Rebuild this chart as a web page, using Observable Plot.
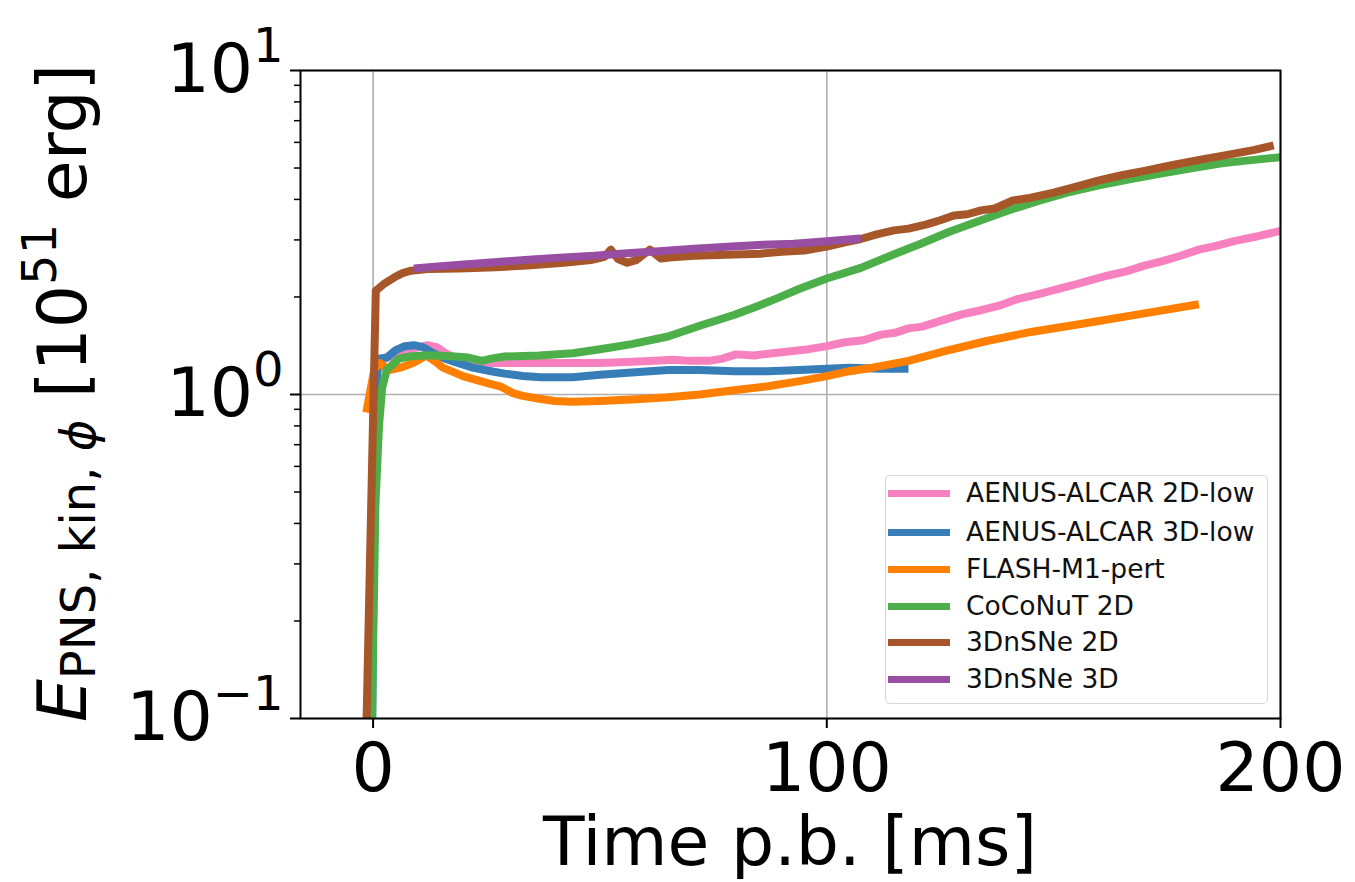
<!DOCTYPE html>
<html><head><meta charset="utf-8">
<script src="https://cdn.jsdelivr.net/npm/d3@7"></script>
<script src="https://cdn.jsdelivr.net/npm/@observablehq/plot@0.6"></script>
<style>
body{margin:0;background:#fff;font-family:"DejaVu Sans",sans-serif;}
#wrap{position:relative;width:1355px;height:882px;overflow:hidden;}
#legend{position:absolute;left:885px;top:475px;width:383px;height:229px;box-sizing:border-box;border:1.6px solid #d6d6d6;border-radius:5px;background:rgba(255,255,255,0.8);}
.row{position:absolute;left:0;height:0;}
.sw{position:absolute;left:2px;width:62px;height:7px;top:-3.5px;}
.lab{position:absolute;left:80px;top:-16px;font-size:26.5px;line-height:32px;white-space:nowrap;color:#111;}
</style></head><body><div id="wrap"></div>
<script>
// ---- data (time p.b. [ms], E [1e51 erg]) ----
const seriesNames = ["AENUS-ALCAR 2D-low","AENUS-ALCAR 3D-low","FLASH-M1-pert","CoCoNuT 2D","3DnSNe 2D","3DnSNe 3D"];
const seriesColors = ["#f781bf","#377eb8","#ff7f00","#4daf4a","#a65628","#984ea3"];

const aenus2dT = [0.2,1.5,5,9,12,14,16,18,22,26,32,38,44,50,56,62,66,70,74,77,80,84,88,92,96,100,104,108,112,115,118,121,124,127,130,134,138,142,146,150,154,158,162,166,170,174,178,182,186,190,195,200];
const aenus2dE = [1.1,1.27,1.33,1.39,1.42,1.40,1.34,1.30,1.27,1.25,1.25,1.25,1.25,1.25,1.26,1.27,1.28,1.27,1.27,1.29,1.33,1.32,1.34,1.36,1.38,1.41,1.45,1.47,1.53,1.55,1.60,1.62,1.67,1.72,1.77,1.82,1.88,1.97,2.03,2.10,2.17,2.25,2.33,2.40,2.50,2.58,2.68,2.80,2.88,2.98,3.08,3.20];

const aenus3dT = [-0.2,0.4,1.3,3,5,7,9,11,14.5,18,22,26,29,33,37,44,50,57,65,72,79.5,87,94,100,105,112,118];
const aenus3dE = [0.09,1.0,1.29,1.30,1.37,1.41,1.42,1.40,1.31,1.26,1.21,1.18,1.16,1.14,1.13,1.13,1.15,1.17,1.19,1.19,1.18,1.18,1.19,1.20,1.21,1.20,1.20];

const flashT = [-1.5,0.3,1.5,3.5,6,8.8,11.7,13.5,15.4,19.8,25.6,28,30.8,33,36.6,40,44,50,57,65,72,79.5,87,94,100,105,110,118,126,135,145,157,170,182];
const flashE = [0.88,1.2,1.25,1.19,1.21,1.25,1.32,1.27,1.21,1.14,1.08,1.06,1.01,0.99,0.97,0.955,0.95,0.955,0.965,0.98,1.0,1.03,1.06,1.10,1.14,1.18,1.21,1.27,1.36,1.46,1.56,1.66,1.78,1.90];

const coconutT = [-0.3,0.5,1.3,2,3,5.7,8,11,14,18,21,24,26,29,36.6,44,50,57,65,72,79.5,85,89,94,100,107.5,114,120.7,127,134,140,147,153,160,167,173.6,180,187,193,200];
const coconutE = [0.09,0.45,0.8,1.05,1.19,1.29,1.31,1.32,1.32,1.31,1.30,1.27,1.29,1.31,1.32,1.34,1.38,1.43,1.51,1.63,1.76,1.88,1.98,2.12,2.28,2.46,2.68,2.92,3.18,3.45,3.70,3.97,4.20,4.42,4.62,4.81,4.98,5.17,5.28,5.40];

const snes2dT = [-1.5,0.6,2.5,4.7,6.5,8.4,12,19,27,34,42,48,51,52.4,54,56,58,61,63.4,66,70.8,78,85.4,90,95,100,104,107.5,111,114.8,118,122,125,128,131,134,137,141,145,150,155,160,165,170,176,182.4,188,194,198.5];
const snes2dE = [0.09,2.09,2.2,2.30,2.37,2.41,2.44,2.45,2.47,2.50,2.55,2.60,2.66,2.80,2.62,2.55,2.60,2.80,2.63,2.65,2.68,2.70,2.72,2.76,2.78,2.86,2.95,3.02,3.12,3.21,3.25,3.35,3.45,3.57,3.60,3.70,3.75,3.97,4.05,4.20,4.38,4.58,4.75,4.90,5.10,5.31,5.48,5.68,5.87];

const snes3dT = [9,15,20,26.7,35,42,48.7,56,63,70.8,80,86,92.7,100,107.5];
const snes3dE = [2.45,2.49,2.52,2.56,2.61,2.65,2.68,2.73,2.77,2.82,2.87,2.90,2.92,2.97,3.03];

const xTicks = [0,100,200];
const yTicks = [0.1,1,10];
const yMinorTicks = [0.2,0.3,0.4,0.5,0.6,0.7,0.8,0.9,2,3,4,5,6,7,8,9];
const xLabel = "Time p.b. [ms]";

// ---- build ----
const seriesT = [aenus2dT,aenus3dT,flashT,coconutT,snes2dT,snes3dT];
const seriesE = [aenus2dE,aenus3dE,flashE,coconutE,snes2dE,snes3dE];
const seriesData = seriesT.map((ts,i)=>ts.map((t,j)=>({t, e: seriesE[i][j], s: seriesNames[i]})));

const gridStyle = {stroke:"#b0b0b0", strokeOpacity:1, strokeWidth:1.6};
const chart = Plot.plot({
  width:1355, height:882,
  marginLeft:300, marginRight:75, marginTop:70, marginBottom:164,
  style:{fontFamily:"DejaVu Sans", fontSize:"68px", color:"#000", background:"#fff"},
  x:{domain:[-16,200], label:null},
  y:{type:"log", domain:[0.1,10], label:null},
  marks:[
    Plot.gridX(xTicks, gridStyle),
    Plot.gridY(yTicks, gridStyle),
    ...seriesData.map((d,i)=>Plot.line(d,{x:"t", y:"e", stroke:seriesColors[i], strokeWidth:8, strokeLinejoin:"round", strokeLinecap:"butt", clip:true})),
    Plot.frame({stroke:"#000", strokeWidth:2}),
    Plot.axisX(xTicks,{tickSize:10, tickPadding:14, strokeWidth:2, label:null, tickFormat:d=>String(d)}),
    Plot.axisY(yTicks,{tickSize:10, tickPadding:7, strokeWidth:2, label:null, tickFormat:d=>"10^"+Math.round(Math.log10(d))}),
    Plot.axisY(yMinorTicks,{tickSize:6, strokeWidth:1.5, label:null, tickFormat:()=>""})
  ]
});

const wrap = document.getElementById("wrap");
wrap.appendChild(chart);
const svg = d3.select(chart);

// superscript tick labels
svg.selectAll('g[aria-label="y-axis tick label"] text').each(function(){
  const s = this.textContent;
  if(!s.includes("^")) return;
  const [b,e] = s.split("^");
  const el = d3.select(this); el.text("");
  el.append("tspan").text(b);
  el.append("tspan").attr("dy",-30).attr("font-size",48).text(e.replace("-","\u2212"));
});

// x label
svg.append("text").attr("x",790).attr("y",865).attr("text-anchor","middle")
  .attr("font-size",68).attr("fill","#000").text(xLabel);

// y label
const yl = svg.append("text").attr("transform","translate(86,393) rotate(-90)")
  .attr("text-anchor","middle").attr("font-size",68).attr("fill","#000").style("white-space","pre");
yl.append("tspan").attr("font-style","italic").text("E");
yl.append("tspan").attr("font-size",48).attr("dy",9).text("PNS, kin, ");
yl.append("tspan").attr("font-size",48).attr("font-style","italic").text("\u03d5");
yl.append("tspan").attr("dy",-9).text(" [10");
yl.append("tspan").attr("font-size",48).attr("dy",-30).text("51");
yl.append("tspan").attr("dy",30).text(" erg]");

// legend
const leg = document.createElement("div"); leg.id="legend";
const rowY = [17,56,93,130,166,203];
seriesNames.forEach((n,i)=>{
  const r = document.createElement("div"); r.className="row"; r.style.top=rowY[i]+"px";
  const sw = document.createElement("div"); sw.className="sw"; sw.style.background=seriesColors[i];
  const lb = document.createElement("div"); lb.className="lab"; lb.textContent=n;
  r.appendChild(sw); r.appendChild(lb); leg.appendChild(r);
});
wrap.appendChild(leg);
</script></body></html>
